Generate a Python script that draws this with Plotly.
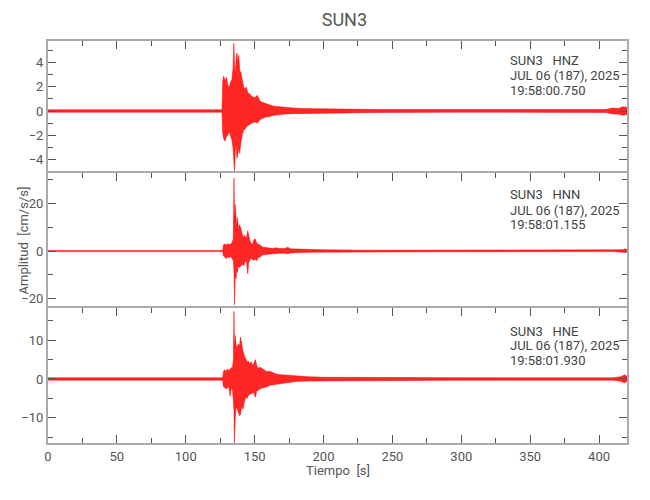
import plotly.graph_objects as go
from plotly.subplots import make_subplots

# ---- data: envelope (upper / lower peaks) ----
hnz_t = [0, 126.3, 126.8, 127.5, 128.5, 129.5, 130.5, 131.5, 132.5, 133.5, 134.3, 134.9, 135.4,
         136.0, 136.6, 137.2, 137.8, 138.5, 139.2, 140.0, 141.0, 142.0, 143.0, 144.0, 145.0,
         146.5, 148.0, 150.0, 152.0, 154.0, 156.0, 158.0, 161.0, 164.0, 168.0, 172.0, 178.0,
         185.0, 195.0, 210.0, 240.0, 300.0, 360.0, 405.0, 410.0, 414.0, 417.0, 420.3]
hnz_up = [0.1, 0.1, 2.4, 2.9, 2.5, 2.8, 2.2, 1.9, 2.4, 2.6, 3.5, 5.6, 3.8,
          3.0, 4.5, 4.8, 4.0, 4.6, 3.3, 3.2, 2.6, 2.0, 1.8, 2.0, 1.5,
          1.4, 1.2, 1.1, 1.3, 0.8, 0.7, 0.6, 0.5, 0.4, 0.35, 0.3, 0.25,
          0.2, 0.18, 0.15, 0.12, 0.12, 0.1, 0.12, 0.25, 0.2, 0.35, 0.3]
hnz_lo = [-0.1, -0.1, -1.8, -2.3, -2.5, -2.1, -2.0, -1.7, -2.0, -2.4, -3.0, -3.5, -5.0,
          -3.2, -2.8, -3.9, -3.6, -3.0, -3.5, -2.6, -2.0, -1.6, -1.5, -1.3, -1.2,
          -1.1, -1.0, -0.9, -1.0, -0.7, -0.6, -0.5, -0.45, -0.35, -0.3, -0.25, -0.22,
          -0.2, -0.16, -0.14, -0.12, -0.1, -0.1, -0.12, -0.25, -0.25, -0.35, -0.3]

hnn_t = [0, 126.8, 127.3, 128.5, 129.5, 130.5, 131.5, 132.5, 133.5, 134.5, 135.0, 135.4,
         135.9, 136.5, 137.0, 137.5, 138.2, 139.0, 140.0, 141.0, 142.0, 143.0, 144.0, 145.0,
         145.6, 146.5, 147.5, 148.5, 149.5, 150.5, 151.5, 152.5, 154.0, 156.0, 158.0, 160.0,
         163.0, 166.0, 168.0, 172.0, 174.0, 176.0, 180.0, 190.0, 200.0, 230.0, 300.0, 410.0,
         417.0, 419.0, 420.3]
hnn_up = [0.25, 0.25, 2.5, 3.0, 2.4, 3.2, 2.6, 3.0, 3.4, 5.0, 30.5, 12.0,
          19.5, 14.0, 10.0, 14.0, 9.0, 11.0, 9.5, 7.0, 6.0, 6.5, 5.0, 8.5,
          6.0, 4.5, 3.0, 2.8, 4.8, 5.0, 3.5, 2.8, 2.5, 1.6, 1.5, 1.2,
          1.0, 1.4, 1.0, 1.1, 1.6, 0.9, 0.8, 0.6, 0.5, 0.35, 0.3, 0.25,
          0.5, 0.9, 0.5]
hnn_lo = [-0.25, -0.25, -2.0, -2.5, -3.2, -2.4, -2.8, -2.2, -3.0, -4.0, -8.0, -22.5,
          -10.0, -11.7, -8.0, -9.0, -6.0, -7.0, -6.5, -5.5, -6.2, -4.5, -4.0, -9.5,
          -5.0, -3.8, -3.0, -3.5, -4.0, -3.5, -4.1, -2.8, -2.5, -1.6, -1.4, -1.1,
          -1.0, -1.0, -0.9, -0.9, -1.2, -0.8, -0.7, -0.5, -0.45, -0.35, -0.3, -0.25,
          -0.5, -0.6, -0.4]

hne_t = [0, 126.8, 127.3, 128.3, 129.3, 130.3, 131.3, 132.2, 133.0, 134.0, 134.6, 135.0,
         135.3, 135.9, 136.6, 137.3, 138.0, 139.0, 139.8, 140.6, 141.5, 142.5, 143.5, 144.5,
         145.5, 146.5, 147.5, 148.5, 149.5, 150.5, 151.5, 152.5, 154.0, 155.5, 157.0, 159.0,
         161.0, 163.0, 166.0, 169.0, 172.0, 175.0, 180.0, 190.0, 200.0, 230.0, 300.0, 410.0,
         416.0, 418.5, 420.3]
hne_up = [0.3, 0.3, 1.9, 2.4, 2.0, 2.6, 2.2, 2.5, 2.7, 3.2, 5.0, 17.4,
          8.0, 11.2, 8.6, 8.0, 9.0, 8.5, 10.8, 9.0, 7.3, 6.0, 5.0, 4.5,
          4.6, 4.0, 4.4, 3.5, 4.0, 5.0, 3.5, 2.8, 3.0, 2.6, 2.2, 1.9,
          2.0, 1.6, 1.2, 1.1, 1.0, 0.9, 0.7, 0.55, 0.45, 0.38, 0.33, 0.3,
          0.6, 1.1, 0.7]
hne_lo = [-0.3, -0.3, -2.0, -2.2, -2.6, -2.3, -2.0, -4.4, -2.4, -3.0, -4.0, -8.0,
          -16.6, -10.4, -7.0, -7.8, -8.5, -9.5, -9.1, -7.0, -7.8, -6.0, -4.7, -5.0,
          -4.2, -4.0, -3.8, -3.6, -3.5, -4.7, -3.2, -2.9, -2.5, -2.4, -2.2, -2.0,
          -1.6, -1.5, -1.2, -1.1, -0.9, -0.9, -0.65, -0.5, -0.45, -0.38, -0.33, -0.3,
          -0.6, -1.0, -0.6]

stations = ["SUN3\u00a0\u00a0\u00a0HNZ", "SUN3\u00a0\u00a0\u00a0HNN", "SUN3\u00a0\u00a0\u00a0HNE"]
dates = ["JUL 06 (187), 2025"] * 3
times = ["19:58:00.750", "19:58:01.155", "19:58:01.930"]
y_ranges = [[-5.13, 5.79], [-23.9, 32.7], [-16.5, 18.3]]
y_major = [2, 20, 10]
y_minor = [1, 10, 5]

panels = [(hnz_t, hnz_up, hnz_lo), (hnn_t, hnn_up, hnn_lo), (hne_t, hne_up, hne_lo)]

FONT = "Roboto, Liberation Sans, sans-serif"
TXT = "#555555"
FRAME = "#aaaaaa"
TICK = "#555555"

fig = make_subplots(rows=3, cols=1, shared_xaxes=True, vertical_spacing=0)

for i, (t, up, lo) in enumerate(panels, start=1):
    fig.add_trace(go.Scatter(
        x=list(t) + list(t)[::-1],
        y=list(up) + list(lo)[::-1],
        mode="lines", fill="toself",
        fillcolor="rgba(255,0,0,0.85)",
        line=dict(color="#ff0000", width=0.5),
        hoverinfo="skip", showlegend=False), row=i, col=1)

doms = [[0.6716, 1.0], [0.3358, 0.6716], [0.0, 0.3358]]
for i in range(3):
    yname = "yaxis" if i == 0 else f"yaxis{i+1}"
    xname = "xaxis" if i == 0 else f"xaxis{i+1}"
    fig.layout[yname].update(
        domain=doms[i], range=y_ranges[i], dtick=y_major[i], tick0=0,
        ticks="inside", ticklen=8, tickwidth=1, tickcolor=TICK,
        minor=dict(ticks="inside", dtick=y_minor[i], tick0=0, ticklen=5, tickcolor=TICK),
        showline=True, linecolor=FRAME, linewidth=2, mirror="ticks",
        showgrid=False, zeroline=False, automargin=False,
        tickfont=dict(family=FONT, size=13, color=TXT))
    last = (i == 2)
    fig.layout[xname].update(
        range=[0, 420.3], dtick=50, tick0=0,
        ticks="inside", ticklen=8, tickwidth=1, tickcolor=TICK,
        minor=dict(ticks="inside", dtick=25, tick0=0, ticklen=5, tickcolor=TICK),
        showline=True, linecolor=FRAME, linewidth=2,
        mirror="ticks" if last else False,
        side="bottom" if last else "top",
        showticklabels=last, automargin=False,
        showgrid=False, zeroline=False,
        tickfont=dict(family=FONT, size=13, color=TXT))

ann = []
line_y = [[0.9527, 0.9154, 0.8781], [0.617, 0.5796, 0.5423], [0.2786, 0.2413, 0.204]]
for i in range(3):
    for txt, yy in zip([stations[i], dates[i], times[i]], line_y[i]):
        ann.append(dict(text=txt, x=0.794, y=yy, xref="paper", yref="paper",
                        xanchor="left", yanchor="middle", showarrow=False,
                        font=dict(family=FONT, size=13, color="#444444")))
ann.append(dict(text="Amplitud\u00a0\u00a0[cm/s/s]", x=-0.0415, y=0.5037, xref="paper", yref="paper",
                xanchor="center", yanchor="middle", textangle=-90, showarrow=False,
                font=dict(family=FONT, size=13, color=TXT)))
ann.append(dict(text="Tiempo\u00a0\u00a0[s]", x=0.5, y=-0.0672, xref="paper", yref="paper",
                xanchor="center", yanchor="middle", showarrow=False,
                font=dict(family=FONT, size=13, color=TXT)))
fig.update_layout(annotations=ann)

# page has an 8px body margin, so margins are reduced by 8px on the left/top
fig.update_layout(
    width=650, height=500,
    margin=dict(l=40, r=31, t=33, b=65, autoexpand=False),
    paper_bgcolor="white", plot_bgcolor="white",
    title=dict(text="SUN3", x=0.5175, xanchor="center", y=0.976, yanchor="middle",
               font=dict(family=FONT, size=18, color=TXT)),
    showlegend=False,
)

fig.write_html("out.html")
